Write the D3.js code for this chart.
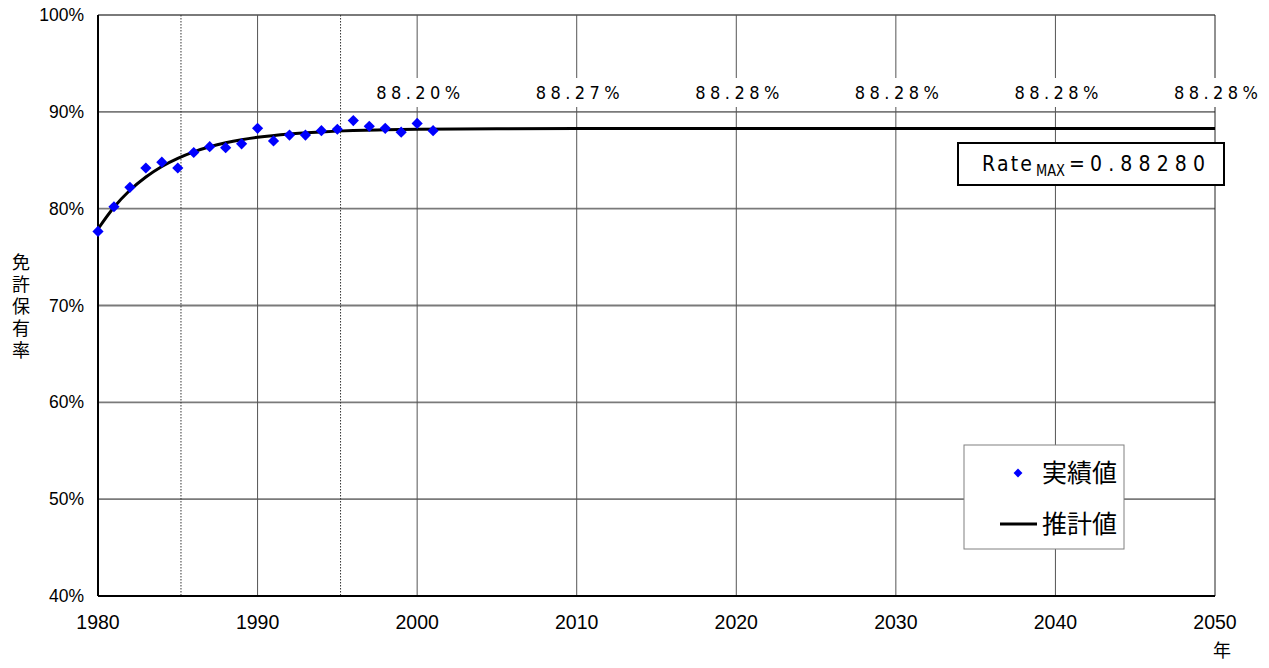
<!DOCTYPE html>
<html>
<head>
<meta charset="utf-8">
<script src="https://cdn.jsdelivr.net/npm/d3@7"></script>
<style>
  html, body { margin: 0; padding: 0; background: #fff; }
  svg { display: block; }
</style>
</head>
<body>
<svg id="chart" width="1269" height="668"></svg>
<script>
// Observed licence-holding rate (%)
const obsYears = [1980,1981,1982,1983,1984,1985,1986,1987,1988,1989,1990,1991,1992,1993,1994,1995,1996,1997,1998,1999,2000,2001];
const obsValues = [77.65,80.2,82.2,84.2,84.8,84.2,85.8,86.4,86.3,86.7,88.3,87.0,87.6,87.6,88.05,88.2,89.1,88.5,88.3,87.9,88.8,88.05];

// Estimated curve (%)
const fitYears = [1980,1981,1982,1983,1984,1985,1986,1987,1988,1989,1990,1992,1994,1996,1998,2000,2005,2010,2015,2020,2030,2040,2050];
const fitValues = [77.9,80.14,81.9,83.27,84.36,85.2,85.87,86.39,86.8,87.12,87.37,87.72,87.93,88.07,88.15,88.2,88.25,88.27,88.28,88.28,88.28,88.28,88.28];

// Value labels along the estimated curve
const noteYears = [2000,2010,2020,2030,2040,2050];
const noteLabels = ["88.20%","88.27%","88.28%","88.28%","88.28%","88.28%"];

const yTicks = [40,50,60,70,80,90,100];
const xTicks = [1980,1990,2000,2010,2020,2030,2040,2050];
const dottedYears = [1985.2,1995.2];
const rateMaxText = "0.88280";

const svg = d3.select("#chart");
const L = 98, R = 1215, T = 15, B = 596;

const x = d3.scaleLinear().domain([1980, 2050]).range([L, R]);
const y = d3.scaleLinear().domain([40, 100]).range([B, T]);

const sans = "'Liberation Sans', Arial, sans-serif";
const narrow = "'DejaVu Sans Condensed', 'DejaVu Sans', sans-serif";
const cjk = "'Noto Sans CJK JP', sans-serif";

// horizontal gridlines
svg.append("g").selectAll("line").data(yTicks.filter(d => d > 40)).join("line")
  .attr("x1", L).attr("x2", R)
  .attr("y1", d => y(d)).attr("y2", d => y(d))
  .attr("stroke", "#7a7a7a").attr("stroke-width", 1.8);

// vertical gridlines
svg.append("g").selectAll("line").data(xTicks.filter(d => d > 1980)).join("line")
  .attr("x1", d => x(d)).attr("x2", d => x(d))
  .attr("y1", T).attr("y2", B)
  .attr("stroke", d => d === 2050 ? "#222" : "#555").attr("stroke-width", 1);

// dotted period markers
svg.append("g").selectAll("line").data(dottedYears).join("line")
  .attr("x1", d => x(d)).attr("x2", d => x(d))
  .attr("y1", T).attr("y2", B)
  .attr("stroke", "#333").attr("stroke-width", 1)
  .attr("stroke-dasharray", "1.5,1.5");

// axis lines
svg.append("line").attr("x1", L).attr("x2", L).attr("y1", T).attr("y2", B)
  .attr("stroke", "#000").attr("stroke-width", 2);
svg.append("line").attr("x1", L).attr("x2", R).attr("y1", B).attr("y2", B)
  .attr("stroke", "#000").attr("stroke-width", 2);

// y tick labels
svg.append("g").selectAll("text").data(yTicks).join("text")
  .attr("x", 84).attr("y", d => y(d) + 6)
  .attr("text-anchor", "end")
  .attr("font-family", sans).attr("font-size", 17.5)
  .text(d => d + "%");

// x tick labels
svg.append("g").selectAll("text").data(xTicks).join("text")
  .attr("x", d => x(d)).attr("y", 629)
  .attr("text-anchor", "middle")
  .attr("font-family", sans).attr("font-size", 19.5)
  .text(d => d);

svg.append("text").attr("x", 1222).attr("y", 657)
  .attr("text-anchor", "middle").attr("font-family", cjk).attr("font-size", 18)
  .text("年");

// y axis title, set vertically
svg.append("text")
  .attr("x", 21).attr("y", 253)
  .attr("writing-mode", "vertical-rl")
  .attr("letter-spacing", 4)
  .attr("font-family", cjk).attr("font-size", 18)
  .text("免許保有率");

// estimated curve
const line = d3.line().x((d, i) => x(fitYears[i])).y(d => y(d)).curve(d3.curveMonotoneX);
svg.append("path").datum(fitValues)
  .attr("d", line).attr("fill", "none")
  .attr("stroke", "#000").attr("stroke-width", 3);

// observed points
const diamond = d3.symbol().type(d3.symbolDiamond2).size(80);
svg.append("g").selectAll("path").data(obsValues).join("path")
  .attr("transform", (d, i) => `translate(${x(obsYears[i])},${y(d)})`)
  .attr("d", diamond).attr("fill", "#0000ff");

// value labels with white backing
const notes = svg.append("g").selectAll("g").data(noteLabels).join("g")
  .attr("transform", (d, i) => `translate(${x(noteYears[i])},0)`);
notes.append("rect")
  .attr("x", -44).attr("y", 78).attr("width", 88).attr("height", 29)
  .attr("fill", "#fff");
notes.append("text")
  .attr("x", -41).attr("y", 99)
  .attr("font-family", narrow).attr("font-size", 18)
  .attr("textLength", 84).attr("lengthAdjust", "spacing")
  .text(d => d);

// Rate MAX box
const bx = svg.append("g");
bx.append("rect").attr("x", 958).attr("y", 143).attr("width", 266).attr("height", 42)
  .attr("fill", "#fff").attr("stroke", "#000").attr("stroke-width", 2);
bx.append("text").attr("x", 982).attr("y", 171)
  .attr("font-family", narrow).attr("font-size", 21)
  .attr("textLength", 50).attr("lengthAdjust", "spacing")
  .text("Rate");
bx.append("text").attr("x", 1036).attr("y", 176)
  .attr("font-family", narrow).attr("font-size", 15)
  .attr("textLength", 29).attr("lengthAdjust", "spacingAndGlyphs")
  .text("MAX");
bx.append("text").attr("x", 1069).attr("y", 171)
  .attr("font-family", narrow).attr("font-size", 21)
  .text("=");
bx.append("text").attr("x", 1090).attr("y", 171)
  .attr("font-family", narrow).attr("font-size", 21)
  .attr("textLength", 115).attr("lengthAdjust", "spacing")
  .text(rateMaxText);

// legend
const lg = svg.append("g");
lg.append("rect").attr("x", 964).attr("y", 445).attr("width", 160).attr("height", 104)
  .attr("fill", "#fff").attr("stroke", "#808080").attr("stroke-width", 1);
lg.append("path").attr("transform", "translate(1018,473)")
  .attr("d", d3.symbol().type(d3.symbolDiamond2).size(50)).attr("fill", "#0000ff");
lg.append("text").attr("x", 1042).attr("y", 482)
  .attr("font-family", cjk).attr("font-size", 25).text("実績値");
lg.append("line").attr("x1", 1000).attr("x2", 1037).attr("y1", 524).attr("y2", 524)
  .attr("stroke", "#000").attr("stroke-width", 3);
lg.append("text").attr("x", 1042).attr("y", 533)
  .attr("font-family", cjk).attr("font-size", 25).text("推計値");
</script>
</body>
</html>
